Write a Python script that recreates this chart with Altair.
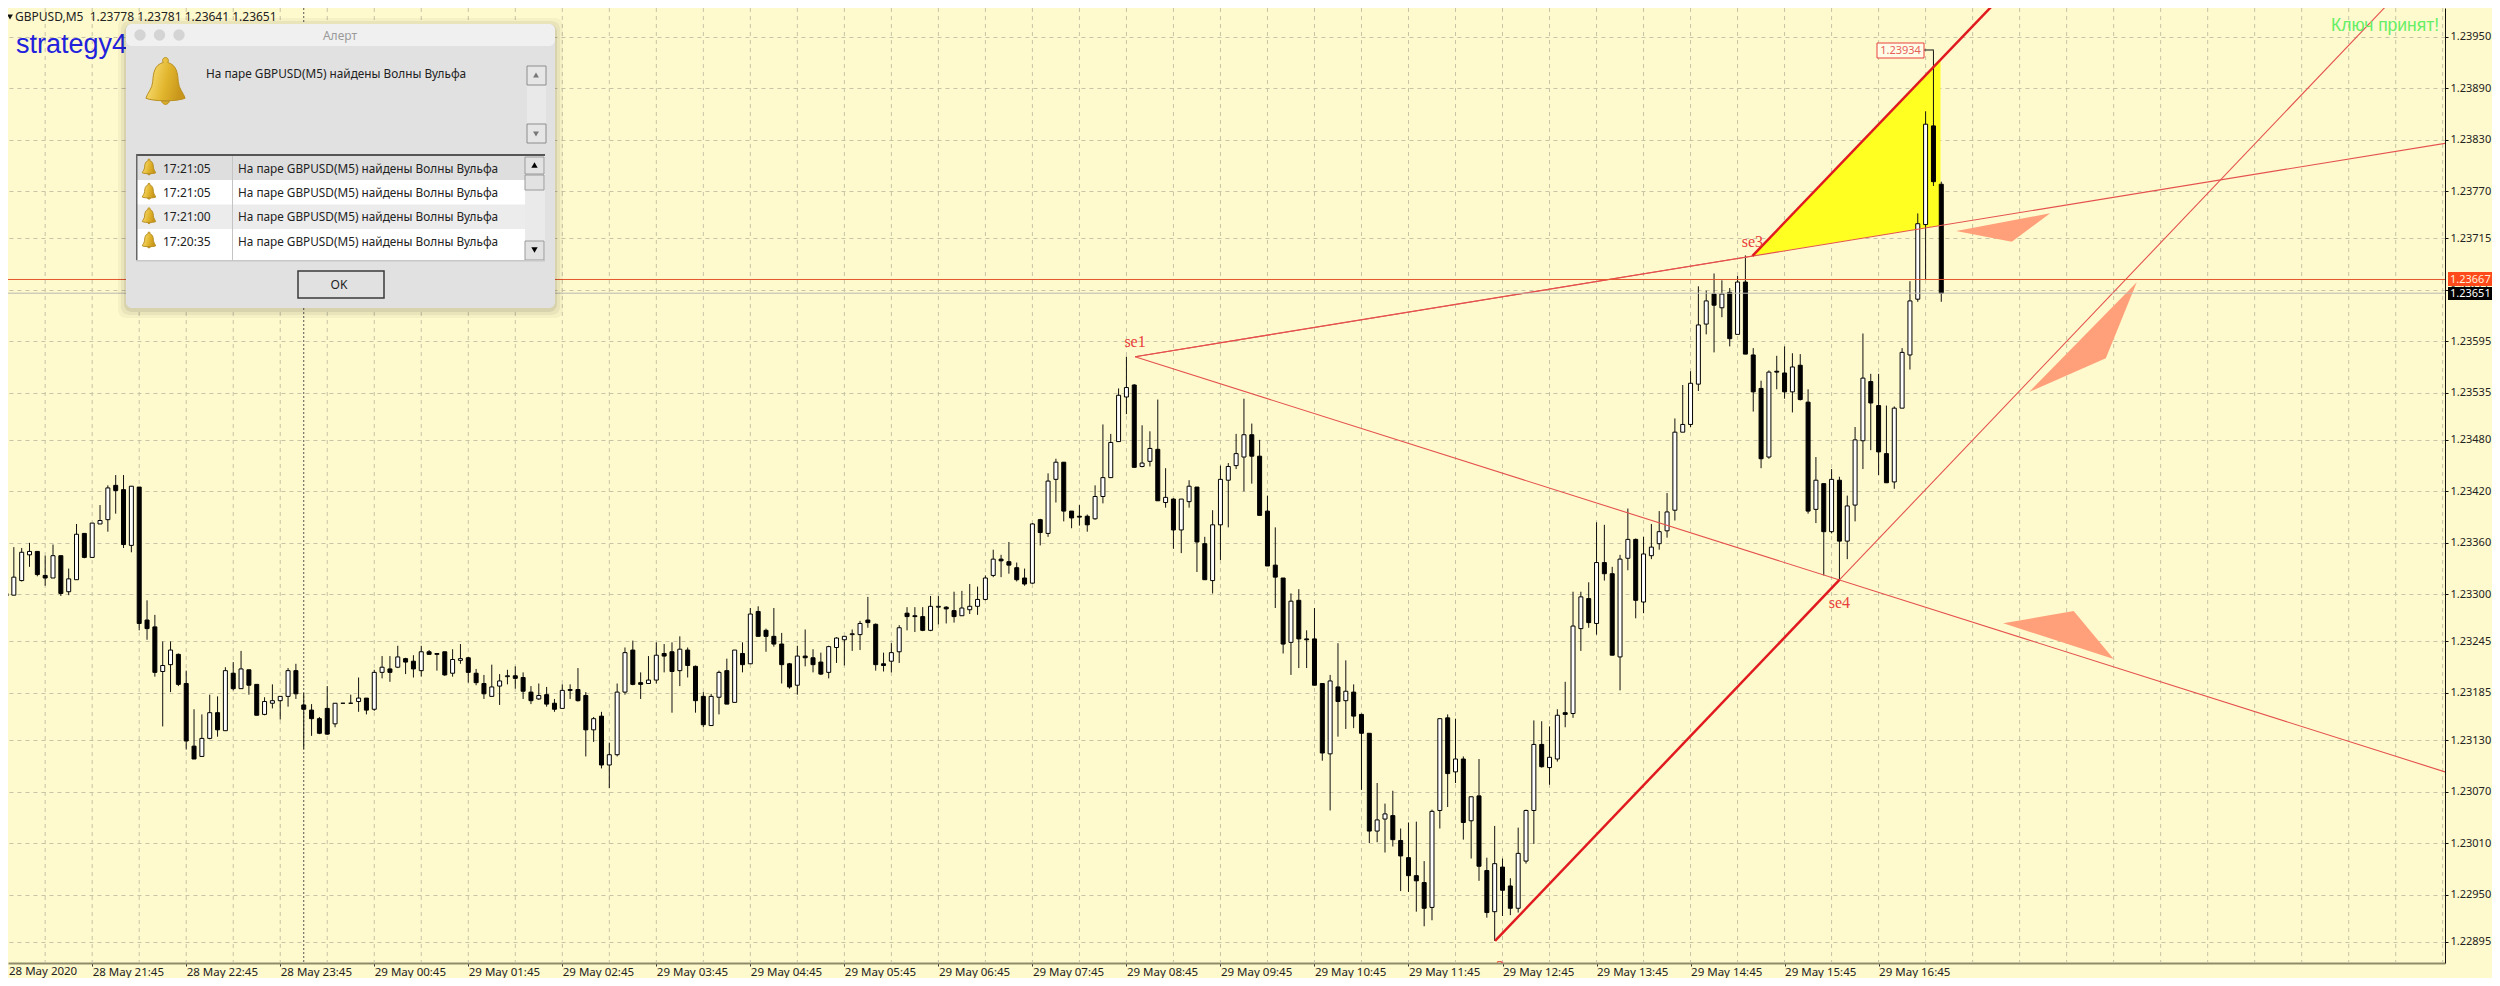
import altair as alt
import pandas as pd

# Prices are stored in points above 1.23000 (1 point = 0.00001); index 0 = 28 May 20:50, M5 bars.
opens = [301,299,316,346,350,322,319,345,303,317,
 371,343,382,387,427,422,357,425,270,262,
 210,218,230,196,123,111,132,162,141,208,
 190,212,195,160,173,176,181,211,171,165,
 155,167,149,173,173,175,179,166,209,213,
 215,225,222,211,233,231,233,208,223,226,
 208,196,181,193,204,205,203,186,178,183,
 173,167,189,189,182,142,158,101,113,186,
 235,197,196,200,231,233,211,235,216,181,
 147,180,211,174,231,219,280,258,251,242,
 219,194,228,226,221,209,238,247,253,253,
 270,265,219,222,233,278,275,274,258,285,
 285,281,275,282,286,294,322,341,338,331,
 319,313,387,371,434,454,397,391,391,388,
 414,436,478,530,544,449,455,469,407,411,
 375,408,425,359,316,381,433,450,460,486,
 461,397,334,319,244,293,248,248,196,114,
 192,176,186,160,138,24,38,42,13,-7,
 -28,-36,-65,48,156,93,108,36,65,-22,
 -70,-18,-40,-66,-11,48,125,98,108,162,
 161,260,295,266,337,324,227,342,364,291,
 345,359,374,398,489,498,545,615,650,634,
 652,603,664,579,540,460,560,558,536,567,
 524,399,429,373,433,362,404,479,548,520,
 464,431,517,579,644,731,846,778]
closes = [298,320,349,350,323,319,345,301,318,370,
 343,383,386,424,421,358,426,266,260,209,
 217,235,195,129,108,132,162,142,211,190,
 213,194,159,175,176,181,211,184,166,155,
 138,137,173,173,173,179,165,209,215,209,
 227,221,213,233,230,230,206,224,225,209,
 197,184,192,199,205,202,187,176,182,172,
 166,188,188,176,142,155,101,113,186,232,
 195,195,200,229,228,210,236,217,176,148,
 181,209,172,235,218,277,251,251,242,218,
 192,228,226,218,207,239,249,251,254,266,
 267,218,217,232,261,274,274,258,286,286,
 283,274,284,286,294,319,341,339,334,317,
 312,382,372,432,454,397,389,390,381,414,
 436,477,532,541,448,453,470,409,413,375,
 411,426,361,317,381,434,449,464,486,461,
 392,333,320,242,292,248,247,194,115,199,
 175,187,158,138,24,37,44,14,-5,-28,
 -34,-66,47,155,91,108,34,64,-17,-71,
 -14,-45,-66,-2,48,125,99,110,159,160,
 263,297,267,337,324,229,341,364,293,347,
 355,373,396,489,498,546,614,642,637,650,
 598,664,580,536,458,559,559,536,565,527,
 397,433,373,434,362,403,480,552,523,466,
 430,517,582,642,732,848,781,651]
highs = [317,355,354,360,350,345,358,345,330,382,
 371,383,404,427,439,439,426,425,293,276,
 245,245,231,211,166,160,183,181,215,221,
 234,212,195,180,195,181,214,219,185,172,
 157,193,173,173,183,203,179,212,228,228,
 240,226,229,240,235,231,233,236,242,227,
 213,206,218,207,212,216,209,193,196,192,
 178,195,195,214,186,157,163,127,196,238,
 246,209,228,244,242,244,251,238,217,186,
 184,211,225,235,244,284,286,260,284,255,
 220,240,259,236,232,240,250,251,259,269,
 297,266,232,243,264,285,285,285,298,298,
 286,303,304,312,309,322,352,346,361,337,
 330,383,388,441,458,454,397,404,393,427,
 498,487,540,577,545,497,490,527,447,412,
 411,433,425,367,398,450,453,487,528,499,
 480,415,378,319,301,306,258,284,196,206,
 243,223,195,161,138,80,56,71,27,34,
 35,-11,49,155,160,155,111,64,108,-7,
 30,-8,-31,28,49,153,152,146,166,198,
 303,303,314,384,381,332,346,400,365,367,
 382,397,418,505,544,560,659,654,674,666,
 657,671,695,587,549,561,578,589,581,580,
 539,460,429,446,437,415,495,604,557,557,
 520,519,587,665,744,863,934,781]
lows = [292,299,315,332,321,310,319,298,299,317,
 342,343,382,373,394,354,349,258,247,204,
 146,186,193,119,108,111,131,134,141,188,
 190,183,159,159,167,154,169,178,120,135,
 137,136,145,173,173,163,160,164,202,198,
 214,207,203,204,230,211,205,204,219,197,
 194,178,181,171,195,190,178,172,177,169,
 163,167,178,175,111,128,97,74,111,183,
 194,178,196,196,209,162,193,203,162,145,
 147,160,172,174,209,219,251,233,239,196,
 190,183,216,209,206,202,220,217,234,235,
 261,211,210,209,220,258,256,257,257,265,
 266,267,275,277,276,293,320,320,324,315,
 310,312,357,367,407,385,377,380,373,387,
 406,436,478,510,448,448,449,409,401,353,
 348,401,326,317,301,340,378,446,420,429,
 392,333,284,231,206,214,214,194,106,48,
 134,143,144,72,10,11,-1,6,-46,-47,
 -70,-87,-80,27,52,80,14,-8,-34,-77,
 -104,-75,-74,-71,-14,9,98,78,105,145,
 156,234,261,253,316,229,188,328,272,278,
 341,352,366,386,489,495,537,603,582,623,
 589,603,580,513,447,458,539,528,512,526,
 394,383,322,371,317,341,385,446,468,439,
 430,423,517,562,641,667,776,641]

price_ticks = [1.23950,1.23890,1.23830,1.23770,1.23715,1.23655,1.23595,1.23535,1.23480,
               1.23420,1.23360,1.23300,1.23245,1.23185,1.23130,1.23070,1.23010,1.22950,1.22895]
time_labels = ["28 May 21:45","28 May 22:45","28 May 23:45","29 May 00:45","29 May 01:45",
               "29 May 02:45","29 May 03:45","29 May 04:45","29 May 05:45","29 May 06:45",
               "29 May 07:45","29 May 08:45","29 May 09:45","29 May 10:45","29 May 11:45",
               "29 May 12:45","29 May 13:45","29 May 14:45","29 May 15:45","29 May 16:45"]
alert_rows = ["17:21:05","17:21:05","17:21:00","17:20:35"]
alert_msg = "На паре GBPUSD(M5) найдены Волны Вульфа"

def P(p):
    return 1.23 + p / 1e5

BG = "#FFFACD"
GRID = "#C6C3A6"
FONT = "Noto Sans"

xs = alt.Scale(domain=[0.255, 311.29], nice=False, zero=False, padding=0)
ys = alt.Scale(domain=[P(-129.8), P(983.46)], nice=False, zero=False, padding=0)

df = pd.DataFrame({"i": range(len(opens)), "o": opens, "c": closes, "h": highs, "l": lows})
for k in "ochl":
    df[k] = P(df[k])
df["top"] = df[["o", "c"]].max(axis=1)
df["bot"] = df[["o", "c"]].min(axis=1)
up = df[df.c > df.o]
down = df[df.c <= df.o]

x_vals = [11 + 12 * k for k in range(len(time_labels))]
label_expr = "[" + ",".join("'%s'" % t for t in time_labels) + "][(datum.value-11)/12]"
x_axis = alt.Axis(values=x_vals, labelExpr=label_expr, grid=False, title=None, orient="bottom",
                  labelAlign="left", labelBaseline="top", labelPadding=0, labelFont=FONT, labelFontSize=11.5,
                  labelColor="#222222", labelOverlap=False, labelBound=False, labelFlush=False,
                  tickColor="#333333", tickSize=3, domainColor="#8F8B6A", domainWidth=2)
y_axis = alt.Axis(values=price_ticks, format=".5f", grid=True, gridColor=GRID, gridDash=[4, 4], gridWidth=1,
                  title=None, orient="right", labelFont=FONT, labelFontSize=11, labelColor="#222222",
                  labelPadding=2, tickColor="#111111", tickSize=3, domainColor="#111111", domainWidth=1,
                  labelOverlap=False, labelBound=False, labelFlush=False)

def X(f):
    return alt.X(f, scale=xs, axis=x_axis, title=None)
def Y(f):
    return alt.Y(f, scale=ys, axis=y_axis, title=None)

layers = []

# vertical grid
grid_x = pd.DataFrame({"i": list(range(5, 312, 6))})
layers.append(alt.Chart(grid_x).mark_rule(color=GRID, strokeDash=[4, 4], strokeWidth=1).encode(x=X("i:Q")))
layers.append(alt.Chart(pd.DataFrame({"i": [38]})).mark_rule(color="#555555", strokeDash=[2, 2], strokeWidth=1)
              .encode(x=X("i:Q")))

# yellow wedge
wedge = pd.DataFrame({"x": [222.9, 246.9], "y": [P(694.4), P(921.7)], "y2": [P(694.4), P(729.9)]})
layers.append(alt.Chart(wedge).mark_area(color="#FFFF22", opacity=1).encode(x=X("x:Q"), y=Y("y:Q"), y2="y2:Q"))

# candles
layers.append(alt.Chart(df).mark_rule(color="#111111", strokeWidth=1)
              .encode(x=X("i:Q"), y=Y("l:Q"), y2="h:Q"))
layers.append(alt.Chart(up).mark_bar(size=4, fill="#FFFFFF", stroke="#000000", strokeWidth=1, orient="vertical")
              .encode(x=X("i:Q"), y=Y("top:Q"), y2="bot:Q"))
layers.append(alt.Chart(down).mark_bar(size=4, fill="#000000", stroke="#000000", strokeWidth=1, orient="vertical")
              .encode(x=X("i:Q"), y=Y("top:Q"), y2="bot:Q"))

# arrows
arrows = [
    ([248.9, 256.0, 260.9], [723.5, 735.7, 744.1], [723.5, 711.0, 744.1]),
    ([258.2, 268.0, 271.95], [535.8, 627.0, 663.7], [535.8, 575.1, 663.7]),
    ([254.9, 263.9, 269.0], [266.2, 280.5, 224.6], [266.2, 239.6, 224.6]),
]
for ax, up_y, lo_y in arrows:
    d = pd.DataFrame({"x": ax, "y": [P(v) for v in up_y], "y2": [P(v) for v in lo_y]})
    layers.append(alt.Chart(d).mark_area(color="#FFA07A").encode(x=X("x:Q"), y=Y("y:Q"), y2="y2:Q"))

# trend lines
thin = pd.DataFrame({"x": [144.1, 144.1, 234.0, 222.9], "x2": [311.29, 311.29, 304.3, 144.1],
                     "y": [P(577), P(577), P(316.7), P(694.4)], "y2": [P(825.7), P(93), P(990.8), P(577)]})
thick = pd.DataFrame({"x": [190.05, 222.9], "x2": [234.0, 254.0],
                      "y": [P(-104), P(694.4)], "y2": [P(316.7), P(990.8)]})
layers.append(alt.Chart(thin).mark_rule(color="#E4524E", strokeWidth=1.1, clip=True)
              .encode(x=X("x:Q"), x2="x2:Q", y=Y("y:Q"), y2="y2:Q"))
layers.append(alt.Chart(thick).mark_rule(color="#E01A1F", strokeWidth=2.5, clip=True)
              .encode(x=X("x:Q"), x2="x2:Q", y=Y("y:Q"), y2="y2:Q"))
layers.append(alt.Chart(pd.DataFrame({"p": [P(651)]})).mark_rule(color="#B8B8B0", strokeWidth=1).encode(y=Y("p:Q")))
layers.append(alt.Chart(pd.DataFrame({"p": [P(667)]})).mark_rule(color="#E4572E", strokeWidth=1).encode(y=Y("p:Q")))

# se labels
wave = pd.DataFrame({"x": [144.1, 222.9, 234.0, 190.7], "y": [P(594), P(711), P(290), P(-135)],
                     "t": ["se1", "se3", "se4", "2"]})
layers.append(alt.Chart(wave).mark_text(font="Liberation Serif", fontSize=16, color="#E8403C", clip=True)
              .encode(x=X("x:Q"), y=Y("y:Q"), text="t:N"))

ONE = alt.Data(values=[{"a": 1}])
OFF = 8

def rect(x0, y0, x1, y1, fill, stroke=None, sw=1, radius=0, opacity=1):
    kw = {"fill": fill, "opacity": opacity, "cornerRadius": radius}
    if stroke:
        kw.update(stroke=stroke, strokeWidth=sw)
    return alt.Chart(ONE).mark_rect(**kw).encode(
        x=alt.value(x0 - OFF), x2=alt.value(x1 - OFF), y=alt.value(y0 - OFF), y2=alt.value(y1 - OFF))

def text(t, x, y, size=11.5, color="#222222", font=FONT, align="left", weight="normal"):
    return alt.Chart(alt.Data(values=[{"t": t}])).mark_text(
        font=font, fontSize=size, color=color, align=align, baseline="middle", fontWeight=weight
    ).encode(x=alt.value(x - OFF), y=alt.value(y - OFF), text="t:N")

def sym(shape, x, y, size, fill, stroke=None):
    kw = {"shape": shape, "size": size, "filled": True, "opacity": 1, "fill": fill}
    if stroke:
        kw.update(stroke=stroke, strokeWidth=1)
    return alt.Chart(ONE).mark_point(**kw).encode(x=alt.value(x - OFF), y=alt.value(y - OFF))

# first time label (its natural place lies left of the window)
layers.append(text("28 May 2020", 9, 972, color="#222222"))
# header + chart texts
layers.append(sym("triangle-down", 10, 17, 34, "#111111"))
layers.append(text("GBPUSD,M5\u00a0\u00a01.23778 1.23781 1.23641 1.23651", 15, 17, size=12, color="#222222"))
layers.append(text("strategy4", 16, 45, size=27, color="#2222DD", font="Liberation Sans"))
layers.append(text("Ключ принят!", 2331, 26, size=17.5, color="#66EE66", font="Liberation Sans"))

# max label
layers.append(alt.Chart(ONE).mark_rule(color="#111111").encode(
    x=alt.value(1924 - OFF), x2=alt.value(1934 - OFF), y=alt.value(50 - OFF)))
layers.append(rect(1877, 43, 1924, 58, "#FFFDE8", stroke="#E8403C"))
layers.append(text("1.23934", 1900.5, 51, size=11, color="#E8605A", align="center"))

# last-price tags
layers.append(rect(2448, 272, 2492, 286, "#FF4A1C"))
layers.append(text("1.23667", 2450, 279.5, size=11, color="#FFF0D8"))
layers.append(rect(2448, 287, 2492, 300, "#000000"))
layers.append(text("1.23651", 2450, 293.5, size=11, color="#FFFFFF"))

# alert window
for g, op in ((8, 0.035), (5, 0.05), (2, 0.07)):
    layers.append(rect(126 - g, 24 - g + 2, 555 + g, 308 + g + 2, "#000000", radius=8, opacity=op))
layers.append(rect(126, 24, 555, 308, "#E1E1E1", radius=6))
layers.append(rect(126, 24, 555, 46, "#F0F0F0", radius=6))
for cx in (140, 159.5, 179):
    layers.append(sym("circle", cx, 35, 130, "#D4D4D4"))
layers.append(text("Алерт", 340, 36, size=12, color="#9A9A9A", align="center"))

BELL = ("M-0.09,-0.88 A0.12,0.12 0 1 1 0.09,-0.88 C0.45,-0.78 0.5,-0.45 0.52,-0.1 "
        "C0.54,0.2 0.75,0.38 0.8,0.58 C0.5,0.72 -0.5,0.72 -0.8,0.58 C-0.75,0.38 -0.54,0.2 -0.52,-0.1 "
        "C-0.5,-0.45 -0.45,-0.78 -0.09,-0.88 Z M-0.16,0.7 A0.17,0.2 0 0 0 0.16,0.7 Z")
GOLD = alt.Gradient(gradient="linear", x1=0, y1=0, x2=1, y2=0.3,
                    stops=[alt.GradientStop(color="#FFE98A", offset=0),
                           alt.GradientStop(color="#E2B62E", offset=0.6),
                           alt.GradientStop(color="#C8961A", offset=1)])
layers.append(sym(BELL, 165.5, 84, 2400, GOLD, stroke="#B98F20"))
layers.append(text(alert_msg, 206, 74, size=11.8))

# top scrollbar
layers.append(rect(527, 85, 546, 124, "#E9E9E9"))
layers.append(rect(527, 66, 546, 85, "#E6E6E6", stroke="#8C8C8C"))
layers.append(rect(527, 124, 546, 143, "#E6E6E6", stroke="#8C8C8C"))
layers.append(sym("triangle-up", 536, 75, 34, "#777777"))
layers.append(sym("triangle-down", 536, 134, 34, "#777777"))

# list
row_fill = ["#DEDEDE", "#FFFFFF", "#ECECEC", "#FFFFFF"]
row_y = [156, 180, 204.5, 229, 253]
layers.append(rect(136, 154, 545, 261, "#FFFFFF"))
for k in range(4):
    layers.append(rect(137, row_y[k], 525, row_y[k + 1], row_fill[k]))
    layers.append(sym(BELL, 149, (row_y[k] + row_y[k + 1]) / 2, 280, GOLD, stroke="#B98F20"))
    layers.append(text(alert_rows[k], 163, (row_y[k] + row_y[k + 1]) / 2 + 0.5, size=12))
    layers.append(text(alert_msg, 238, (row_y[k] + row_y[k + 1]) / 2 + 0.5, size=11.8))
layers.append(rect(137, 253, 525, 260, "#FFFFFF"))
layers.append(rect(232, 156, 233, 260, "#C4C4C4"))
layers.append(rect(136, 154, 545, 156, "#555555"))
layers.append(rect(136, 154, 137.5, 260, "#666666"))
layers.append(rect(525, 156, 545, 260, "#EAEAEA"))
layers.append(rect(525, 157, 544, 174, "#E2E2E2", stroke="#9A9A9A"))
layers.append(rect(525, 175, 544, 190, "#E2E2E2", stroke="#9A9A9A"))
layers.append(rect(525, 241, 544, 260, "#E2E2E2", stroke="#9A9A9A"))
layers.append(sym("triangle-up", 534.5, 165, 40, "#000000"))
layers.append(sym("triangle-down", 534.5, 250, 40, "#000000"))
layers.append(rect(136, 260, 545, 261.5, "#C8C8C8"))

# OK button
layers.append(rect(298, 271, 384, 298, "#E1E1E1", stroke="#3A3A3A", sw=1.5))
layers.append(text("OK", 339, 285, size=12, align="center"))

chart = alt.layer(*layers).properties(
    width=2437, height=955,
    autosize=alt.AutoSizeParams(type="none"),
    padding={"left": 0, "top": 0, "right": 47, "bottom": 15},
    background=BG,
).configure_view(stroke=None)

chart.save("out.html", embed_options={"renderer": "svg", "actions": False})
